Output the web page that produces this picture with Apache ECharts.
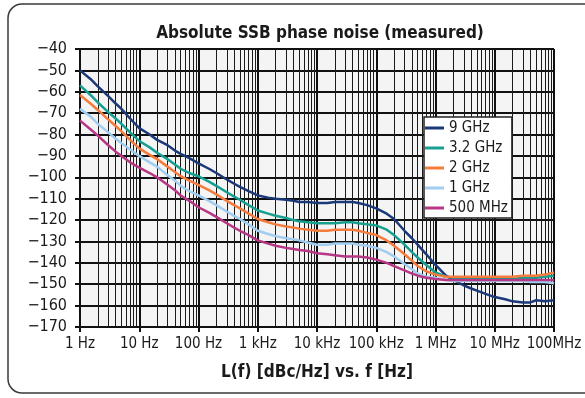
<!DOCTYPE html>
<html>
<head>
<meta charset="utf-8">
<script src="https://cdn.jsdelivr.net/npm/echarts@6/dist/echarts.min.js"></script>
<style>
  html, body { margin: 0; padding: 0; background: #fff; }
  #chart { width: 585px; height: 398px; }
</style>
</head>
<body>
<div id="chart"></div>
<script>
// offset frequency in Hz
const freqs = [
  1, 1.5, 2, 3, 4, 5, 7,
  10, 15, 20, 30, 40, 50, 70,
  100, 150, 200, 300, 400, 500, 700,
  1e3, 1.5e3, 2e3, 3e3, 4e3, 5e3, 7e3,
  1e4, 1.5e4, 2e4, 3e4, 4e4, 5e4, 7e4,
  1e5, 1.5e5, 2e5, 3e5, 4e5, 5e5, 7e5,
  1e6, 1.5e6, 2e6, 3e6, 4e6, 5e6, 7e6,
  1e7, 1.5e7, 2e7, 3e7, 4e7, 5e7, 7e7,
  1e8
]

// phase noise in dBc/Hz
const ghz9 = [
  -50, -54, -57.5, -62, -65.5, -68, -72.5,
  -77, -80, -82.5, -85, -87.5, -89, -91,
  -93.5, -96, -98, -101, -103, -104.5, -106.5,
  -108.5, -109.5, -110, -110.5, -111, -111.5, -111.5,
  -112, -112, -111.5, -111.5, -111.5, -112, -113,
  -114.5, -117, -119.5, -125, -128.5, -131.5, -136,
  -141, -146, -148, -150.5, -152, -153, -154.5,
  -156, -157, -158, -158.5, -158.5, -157.5, -158,
  -157.5
]
const ghz32 = [
  -57, -61.5, -65, -69.5, -72.5, -75, -79,
  -83, -86, -88.5, -91.5, -94, -96, -98,
  -99.5, -102, -104, -107, -109, -110.5, -113,
  -115.5, -117, -118, -119, -120, -120.5, -121,
  -121.5, -121.5, -121.5, -121, -121, -121.5, -122,
  -122.5, -124.5, -127, -131.5, -135, -137.5, -141,
  -144.5, -146.5, -147, -147.5, -147.5, -147.5, -147.5,
  -147.5, -147.5, -147.5, -147, -147, -147, -146.5,
  -146
]
const ghz2 = [
  -61.5, -65.5, -68.5, -73, -76, -78.5, -82.5,
  -86.5, -89.5, -91.5, -95, -97.5, -99.5, -101.5,
  -103.5, -106, -108, -111, -113, -114.5, -117,
  -119.5, -121, -122, -123, -123.5, -124, -124.5,
  -125, -125, -124.5, -124.5, -124.5, -125, -126,
  -127, -129.5, -132, -136, -139, -141.5, -144,
  -145.5, -146.5, -146.5, -146.5, -146.5, -146.5, -146.5,
  -146.5, -146.5, -146.5, -146, -146, -146, -145.5,
  -144.5
]
const ghz1 = [
  -68, -71.5, -75, -79, -82, -84, -87,
  -90, -93, -95, -99, -101.5, -104, -106.5,
  -108.5, -111, -113, -116, -118, -119.5, -122,
  -125, -126.5, -127.5, -128.5, -129, -129.5, -130.5,
  -131.5, -131.5, -131, -131, -131, -131.5, -132,
  -133, -135, -137, -140.5, -143, -145, -146.5,
  -147, -148, -148.5, -148.5, -148.5, -148.5, -148.5,
  -148.5, -148.5, -148.5, -148.5, -149, -149, -149,
  -149.5
]
const mhz500 = [
  -73.5, -77.5, -80.5, -85, -88, -90, -93,
  -95.5, -98, -100, -103.5, -106, -108.5, -111,
  -114, -116.5, -118.5, -121.5, -123.5, -125, -127,
  -129.5, -131, -132, -133, -133.5, -134, -134.5,
  -135.5, -136, -136.5, -137, -137, -137, -137.5,
  -138.5, -140, -141.5, -143.5, -145, -146, -147,
  -147.5, -148, -148, -148, -148, -148, -148,
  -148, -148, -148, -148, -148, -148, -148,
  -148
]

const seriesNames = ['9 GHz', '3.2 GHz', '2 GHz', '1 GHz', '500 MHz']
const seriesColors = ['#1b3878', '#17a08f', '#f47c3c', '#a0cdf0', '#b83784']
const seriesValues = [ghz9, ghz32, ghz2, ghz1, mhz500]

const xTickLabels = ['1 Hz', '10 Hz', '100 Hz', '1 kHz', '10 kHz', '100 kHz', '1 MHz', '10 MHz', '100MHz']
const minorMult = [2, 3, 4, 5, 6, 7, 8, 9]

const font = '"Liberation Sans Narrow", "DejaVu Sans Condensed", "Roboto Condensed", Roboto, sans-serif'

// minor log grid lines 2..9 in every decade
const minorLines = []
for (let d = 0; d < 8; d++) {
  minorMult.forEach(m => minorLines.push({ xAxis: m * Math.pow(10, d) }))
}

const series = seriesNames.map((name, i) => ({
  name: name,
  type: 'line',
  showSymbol: false,
  color: seriesColors[i],
  lineStyle: { width: 2.5 },
  data: freqs.map((f, k) => [f, seriesValues[i][k]])
}))

series.push({
  name: 'minor',
  type: 'line',
  data: [],
  markLine: {
    z: 1,
    silent: true,
    symbol: ['none', 'none'],
    label: { show: false },
    lineStyle: { color: '#1a1a1a', width: 1, type: 'solid' },
    data: minorLines
  }
})

const chart = echarts.init(document.getElementById('chart'))
chart.setOption({
  animation: false,
  title: {
    text: 'Absolute SSB phase noise (measured)',
    left: 315,
    top: 20,
    textAlign: 'center',
    textStyle: { fontFamily: font, fontSize: 17, fontWeight: 'bold', color: '#1a1a1a' }
  },
  graphic: [{
    type: 'rect',
    shape: { x: 8, y: 4, width: 620, height: 389, r: 14 },
    style: { fill: 'none', stroke: '#3a3a3a', lineWidth: 1.5 },
    silent: true
  }],
  legend: {
    data: seriesNames,
    orient: 'vertical',
    left: 424,
    top: 117,
    padding: [3, 4, 2, 1],
    itemWidth: 19,
    itemHeight: 3,
    itemGap: 4,
    icon: 'rect',
    backgroundColor: '#fff',
    borderColor: '#222',
    borderWidth: 1.5,
    textStyle: { fontFamily: font, fontSize: 15, color: '#1a1a1a', lineHeight: 16 }
  },
  grid: {
    left: 80,
    right: 31,
    top: 49,
    bottom: 71,
    show: true,
    backgroundColor: '#f4f4f4',
    borderWidth: 0
  },
  xAxis: {
    type: 'log',
    logBase: 10,
    min: 1,
    max: 1e8,
    name: 'L(f) [dBc/Hz] vs. f [Hz]',
    nameLocation: 'middle',
    nameGap: 37,
    nameTextStyle: { fontFamily: font, fontSize: 17, fontWeight: 'bold', color: '#1a1a1a' },
    axisLine: { lineStyle: { color: '#111', width: 2 } },
    axisTick: { show: true, length: 5, lineStyle: { color: '#111', width: 2 } },
    axisLabel: {
      margin: 10,
      fontFamily: font,
      fontSize: 15,
      color: '#1a1a1a',
      showMinLabel: true,
      showMaxLabel: true,
      hideOverlap: false,
      formatter: v => xTickLabels[Math.round(Math.log10(v))]
    },
    splitLine: { show: true, lineStyle: { color: '#111', width: 2 } }
  },
  yAxis: {
    type: 'value',
    min: -170,
    max: -40,
    interval: 10,
    axisLine: { show: true, lineStyle: { color: '#111', width: 2 } },
    axisTick: { show: true, length: 5, lineStyle: { color: '#111', width: 2 } },
    axisLabel: {
      margin: 13,
      fontFamily: font,
      fontSize: 16,
      color: '#1a1a1a',
      formatter: v => '\u2212' + Math.abs(v)
    },
    splitLine: { show: true, lineStyle: { color: '#111', width: 2 } }
  },
  series: series
})
</script>
</body>
</html>
